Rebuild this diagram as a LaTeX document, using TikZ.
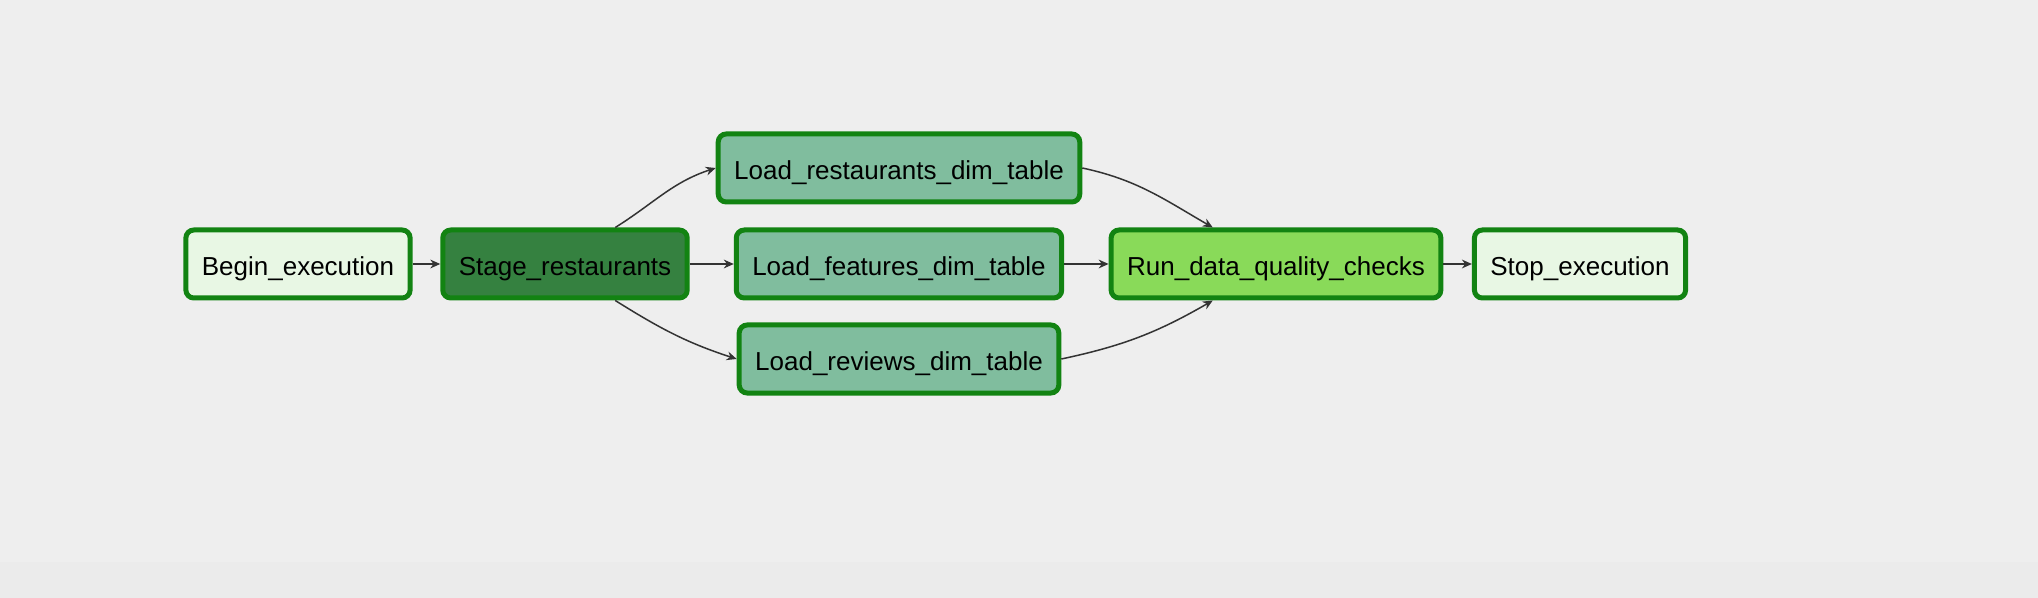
\documentclass[tikz,border=0pt]{standalone}
\usepackage{fontspec}
\setmainfont{Liberation Sans}
\usetikzlibrary{arrows.meta}
\definecolor{canvas}{HTML}{EEEEEE}
\definecolor{bottomband}{HTML}{EBEBEB}
\definecolor{okborder}{HTML}{128312}
\definecolor{dummyfill}{HTML}{E8F7E4}
\definecolor{stagefill}{HTML}{358140}
\definecolor{dimfill}{HTML}{80BD9E}
\definecolor{checkfill}{HTML}{89DA59}
\definecolor{edgegray}{HTML}{333333}
\begin{document}
\begin{tikzpicture}[x=0.5pt,y=0.5pt,
  task/.style={draw=okborder,line width=2.5pt,rounded corners=4pt,minimum height=34pt,inner xsep=8pt,text height=11.3pt,text depth=0pt,font=\fontsize{13}{15}\selectfont,text=black},
  flow/.style={draw=edgegray,line width=0.75pt,-{Stealth[length=5pt,width=4.4pt]}}]
\fill[canvas] (0,0) rectangle (2038,-598);
\fill[bottomband] (0,-562) rectangle (2038,-598);
\useasboundingbox (0,0) rectangle (2038,-598);
% tasks
\node[task,fill=dummyfill] (begin) at (298,-264) {Begin\_execution};
\node[task,fill=stagefill] (stage) at (565,-264) {Stage\_restaurants};
\node[task,fill=dimfill] (dimrest) at (899,-168) {Load\_restaurants\_dim\_table};
\node[task,fill=dimfill] (dimfeat) at (899,-264) {Load\_features\_dim\_table};
\node[task,fill=dimfill] (dimrev) at (899,-359) {Load\_reviews\_dim\_table};
\node[task,fill=checkfill] (checks) at (1276,-264) {Run\_data\_quality\_checks};
\node[task,fill=dummyfill] (stop) at (1580,-264) {Stop\_execution};
% dependencies
\draw[flow] (begin) -- (stage);
\draw[flow] (stage) -- (dimfeat);
\draw[flow] (dimfeat) -- (checks);
\draw[flow] (checks) -- (stop);
\draw[flow] (stage.36) to[out=32,in=198] (dimrest.west);
\draw[flow] (stage.-36) to[out=-32,in=162] (dimrev.west);
\draw[flow] (dimrest.east) to[out=-12,in=150] (checks.150);
\draw[flow] (dimrev.east) to[out=12,in=210] (checks.210);
\end{tikzpicture}
\end{document}
